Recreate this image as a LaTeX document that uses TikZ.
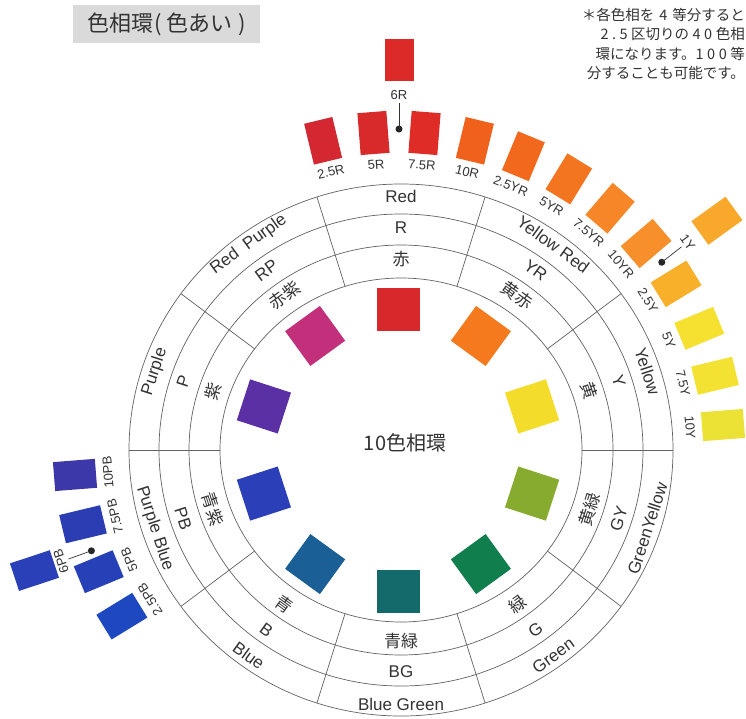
\documentclass[tikz,border=0pt]{standalone}
\usepackage{fontspec}
\setmainfont{Liberation Sans}
\newfontfamily\cjk{Noto Sans CJK JP}
\newcommand\nk{\kern3.5pt}
\definecolor{linegray}{HTML}{626262}
\definecolor{txtgray}{HTML}{333333}
\definecolor{titlegray}{HTML}{DADADA}
\definecolor{cR}{HTML}{D8282C}
\definecolor{cRP}{HTML}{C2307C}
\definecolor{cP}{HTML}{5A30A4}
\definecolor{cPB}{HTML}{2B3FB8}
\definecolor{cB}{HTML}{1A6096}
\definecolor{cBG}{HTML}{14696A}
\definecolor{cG}{HTML}{117E4E}
\definecolor{cGY}{HTML}{86AB2E}
\definecolor{cY}{HTML}{F4DC2A}
\definecolor{cYR}{HTML}{F57A1E}
\definecolor{k25R}{HTML}{D32832}
\definecolor{k5R}{HTML}{D82A2A}
\definecolor{k75R}{HTML}{E02C26}
\definecolor{k10R}{HTML}{F0621C}
\definecolor{k25YR}{HTML}{F2681C}
\definecolor{k5YR}{HTML}{F47520}
\definecolor{k75YR}{HTML}{F68628}
\definecolor{k10YR}{HTML}{F7902A}
\definecolor{k25Y}{HTML}{F8B02A}
\definecolor{k5Y}{HTML}{F6E030}
\definecolor{k75Y}{HTML}{F4E232}
\definecolor{k10Y}{HTML}{ECE236}
\definecolor{k6R}{HTML}{DC2A28}
\definecolor{k1Y}{HTML}{F8A82A}
\definecolor{k10PB}{HTML}{3C38AA}
\definecolor{k75PB}{HTML}{2C3CB2}
\definecolor{k5PB}{HTML}{2640B8}
\definecolor{k25PB}{HTML}{1E48C0}
\definecolor{k6PB}{HTML}{2A40B8}
\begin{document}
\begin{tikzpicture}[x=1pt,y=-1pt,
  ring/.style={draw=linegray, line width=0.7pt},
  band/.style={text=txtgray, inner sep=0pt, anchor=center},
  eng/.style={band, font=\fontsize{17}{20}\selectfont},
  jp/.style={band, font=\cjk\fontsize{17}{20}\selectfont},
  hue/.style={minimum width=43pt, minimum height=43pt, inner sep=0pt},
  chip/.style={minimum width=29pt, minimum height=42pt, inner sep=0pt},
  chiplab/.style={text=txtgray, inner sep=1pt, font=\fontsize{13}{15}\selectfont},
  dotnode/.style={circle, fill=black!85, minimum size=7pt, inner sep=0pt},
]
\fill[white] (0,0) rectangle (746,718);
\useasboundingbox (0,0) rectangle (746,718);
% rings
\draw[ring] (401,450) ellipse [x radius=181pt, y radius=172pt];
\draw[ring] (401,450) ellipse [x radius=212pt, y radius=205pt];
\draw[ring] (401,450) ellipse [x radius=242pt, y radius=236pt];
\draw[ring] (401,450) ellipse [x radius=272pt, y radius=266pt];
\foreach \a in {0,36,...,324}
  \draw[ring] ({401+181*cos(\a)},{450-172*sin(\a)}) -- ({401+272*cos(\a)},{450-266*sin(\a)});
% band texts
\foreach \a/\e/\l/\j [count=\i] in {90/Red/R/赤, 126/Red\ \ Purple/RP/赤紫, 162/Purple/P/紫,
   198/Purple Blue/PB/青紫, 234/Blue/B/青, 270/Blue Green/BG/青緑, 306/Green/G/緑,
   342/GreenYellow/GY/黄緑, 18/Yellow/Y/黄, 54/Yellow Red/YR/黄赤} {
  \pgfmathsetmacro\rot{\a<180 ? \a-90 : \a+90}
  \node[eng, rotate=\rot] (en\i) at ({401+259*cos(\a)},{450-254*sin(\a)}) {\e};
  \node[eng, rotate=\rot] (le\i) at ({401+229*cos(\a)},{450-222*sin(\a)}) {\l};
  \node[jp, rotate=\rot] (jp\i) at ({401+198*cos(\a)},{450-191*sin(\a)}) {\j};
}
% hue squares
\foreach \a/\c [count=\i] in {90/cR,126/cRP,162/cP,198/cPB,234/cB,270/cBG,306/cG,342/cGY,18/cY,54/cYR} {
  \pgfmathsetmacro\rot{\a-90}
  \node[hue, fill=\c, rotate=\rot] (sq\i) at ({398+141*cos(\a)},{450-141*sin(\a)}) {};
}
\node[font=\cjk\fontsize{20}{24}\selectfont, text=txtgray] (ctr) at (405,443) {10色相環};
% 40-hue chips
\foreach \a/\c/\t [count=\i] in {103.5/k25R/2.5R, 94.5/k5R/5R, 85.5/k75R/7.5R, 76.5/k10R/10R,
   67.5/k25YR/2.5YR, 58.5/k5YR/5YR, 49.5/k75YR/7.5YR, 40.5/k10YR/10YR,
   31.5/k25Y/2.5Y, 22.5/k5Y/5Y, 13.5/k75Y/7.5Y, 4.5/k10Y/10Y,
   211.5/k25PB/2.5PB, 202.5/k5PB/5PB, 193.5/k75PB/7.5PB, 184.5/k10PB/10PB} {
  \pgfmathsetmacro\rot{\a-90}
  \node[chip, fill=\c, rotate=\rot] (ch\i) at ({399+325*cos(\a)},{450-318*sin(\a)}) {};
  \node[chiplab, rotate=\rot] (cl\i) at ({399+292*cos(\a)},{450-286*sin(\a)}) {\t};
}
% extra chips with markers
\foreach \a/\c/\t/\r [count=\i] in {90/k6R/6R/390, 35.8/k1Y/1Y/392, 198.3/k6PB/6PB/384} {
  \pgfmathsetmacro\rot{\a-90}
  \node[dotnode] (dot\i) at ({399+324*cos(\a)},{450-321*sin(\a)}) {};
  \node[chiplab, inner sep=3pt, rotate=\rot] (xl\i) at ({399+356*cos(\a)},{450-355*sin(\a)}) {\t};
  \node[chip, fill=\c, rotate=\rot] (xc\i) at ({399+\r*cos(\a)},{450-\r*sin(\a)}) {};
  \draw[line width=0.7pt, black!80] (dot\i.center) -- (xl\i.south);
}
% title
\node[fill=titlegray, minimum width=187pt, minimum height=38pt, inner sep=0pt,
  font=\cjk\fontsize{22}{24}\selectfont, text=black!80] (title) at (166.5,24)
  {色相環\kern1pt(\kern5pt{}色あい\kern6pt)};
% note
\node[anchor=north east, align=right, inner sep=0pt, text=txtgray,
  font=\cjk\fontsize{14.5}{19.5}\selectfont] (note) at (745,8)
  {＊各色相を\kern5pt{}4\kern5pt{}等分すると\\
   2\nk{}.\nk{}5\nk{}区切りの\nk{}4\nk{}0\nk{}色相\\
   環になります。1\nk{}0\nk{}0\nk{}等\\
   分することも可能です。};
\end{tikzpicture}
\end{document}
